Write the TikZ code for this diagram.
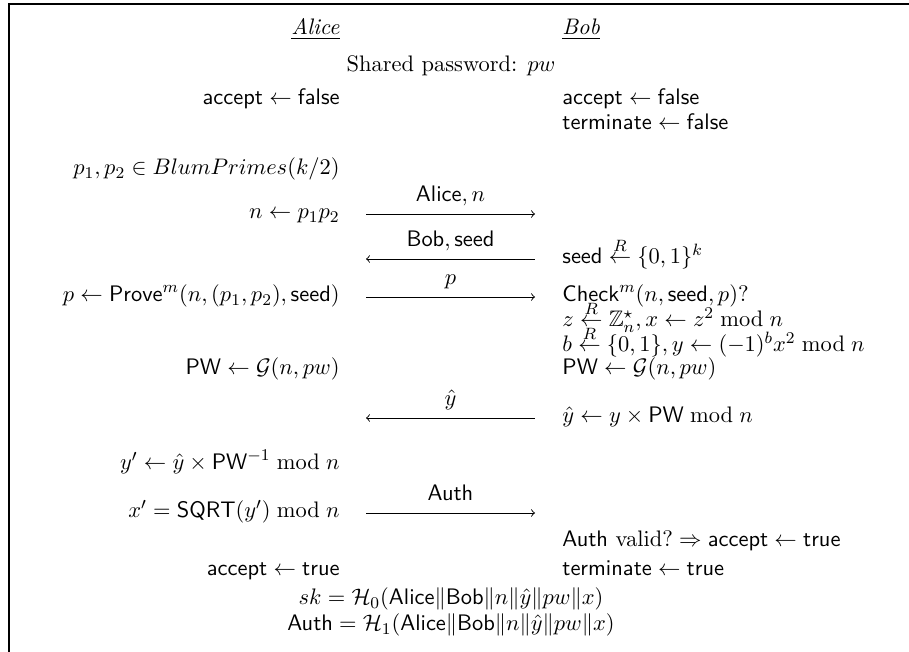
\documentclass[tikz,border=0pt]{standalone}
\usepackage{amsmath,amssymb}
\newcommand{\rndget}{\mathrel{\smash{\stackrel{R}{\leftarrow}}}}
\begin{document}
\begin{tikzpicture}[x=0.4878pt,y=-0.4878pt,
  every node/.style={font=\fontsize{10.95}{13}\selectfont},
  lft/.style={anchor=base east, inner sep=0pt},
  rgt/.style={anchor=base west, inner sep=0pt},
  ctr/.style={anchor=base, inner sep=0pt},
  msg/.style={line width=0.45pt},
  lbl/.style={anchor=base, inner sep=0pt},
  frame/.style={line width=1.1pt}]
\useasboundingbox (0,0) rectangle (909,652);
\draw[frame] (909,4) -- (9,4) -- (9,652);
% headers
\node[lft] (alice) at (340,35) {\underline{\emph{Alice}}};
\node[rgt] (bob) at (562,35) {\underline{\emph{Bob}}};
\node[ctr] (shared) at (451,72) {Shared password: $pw$};
% rows
\node[lft] (l1) at (340,105) {$\textsf{accept} \leftarrow \textsf{false}$};
\node[rgt] (r1) at (562,105) {$\textsf{accept} \leftarrow \textsf{false}$};
\node[rgt] (r2) at (562,130) {$\textsf{terminate} \leftarrow \textsf{false}$};
\node[lft] (l2) at (340,175) {$p_1,p_2 \in BlumPrimes(k/2)$};
\node[lft] (l3) at (340,219) {$n \leftarrow p_1p_2$};
\node[rgt] (r3) at (562,264) {$\textsf{seed} \rndget \{0,1\}^k$};
\node[lft] (l4) at (340,302) {$p \leftarrow \textsf{Prove}^m(n,(p_1,p_2),\textsf{seed})$};
\node[rgt] (r4) at (562,302) {$\textsf{Check}^m(n,\textsf{seed},p)?$};
\node[rgt] (r5) at (562,327) {$z \rndget \mathbb{Z}_n^\star, x \leftarrow z^2 \bmod n$};
\node[rgt] (r6) at (562,352) {$b \rndget \{0,1\}, y \leftarrow (-1)^b x^2 \bmod n$};
\node[lft] (l7) at (340,375) {$\textsf{PW} \leftarrow \mathcal{G}(n,pw)$};
\node[rgt] (r7) at (562,375) {$\textsf{PW} \leftarrow \mathcal{G}(n,pw)$};
\node[rgt] (r8) at (562,423) {$\hat{y} \leftarrow y \times \textsf{PW} \bmod n$};
\node[lft] (l9) at (340,470) {$y' \leftarrow \hat{y} \times \textsf{PW}^{-1} \bmod n$};
\node[lft] (l10) at (340,518) {$x' = \textsf{SQRT}(y') \bmod n$};
\node[rgt] (r11) at (562,547) {$\textsf{Auth}\ \mathrm{valid?} \Rightarrow \textsf{accept} \leftarrow \textsf{true}$};
\node[lft] (l12) at (340,576) {$\textsf{accept} \leftarrow \textsf{true}$};
\node[rgt] (r12) at (562,576) {$\textsf{terminate} \leftarrow \textsf{true}$};
\node[ctr] (sk) at (451,605) {$sk = \mathcal{H}_0(\textsf{Alice}\|\textsf{Bob}\|n\|\hat{y}\|pw\|x)$};
\node[ctr] (auth) at (451,631) {$\textsf{Auth} = \mathcal{H}_1(\textsf{Alice}\|\textsf{Bob}\|n\|\hat{y}\|pw\|x)$};
% message endpoints
\coordinate (m1a) at (366,214); \coordinate (m1b) at (535,214);
\coordinate (m2a) at (366,259); \coordinate (m2b) at (535,259);
\coordinate (m3a) at (366,297); \coordinate (m3b) at (535,297);
\coordinate (m4a) at (366,418); \coordinate (m4b) at (535,418);
\coordinate (m5a) at (366,513); \coordinate (m5b) at (535,513);
% messages
\draw[msg,->] (m1a) -- (m1b) node[lbl, midway, yshift=6pt] (t1) {$\textsf{Alice}, n$};
\draw[msg,<-] (m2a) -- (m2b) node[lbl, midway, yshift=6pt] (t2) {$\textsf{Bob}, \textsf{seed}$};
\draw[msg,->] (m3a) -- (m3b) node[lbl, midway, yshift=6pt] (t3) {$p$};
\draw[msg,<-] (m4a) -- (m4b) node[lbl, midway, yshift=6pt] (t4) {$\hat{y}$};
\draw[msg,->] (m5a) -- (m5b) node[lbl, midway, yshift=6pt] (t5) {$\textsf{Auth}$};
\end{tikzpicture}
\end{document}
